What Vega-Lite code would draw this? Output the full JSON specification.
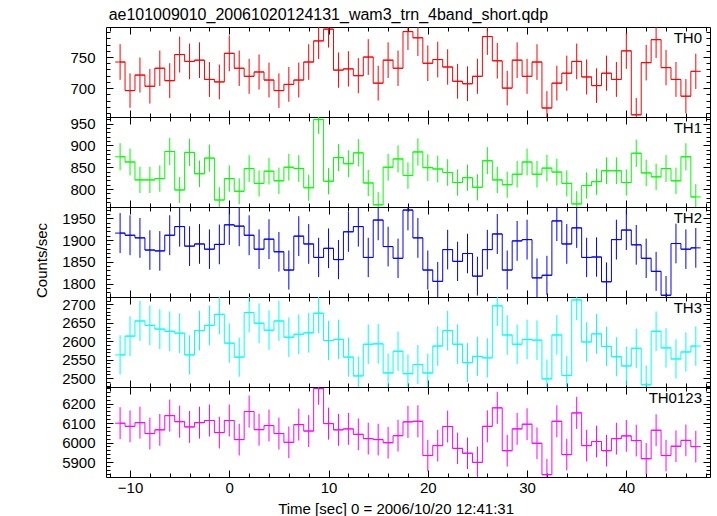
{
 "$schema": "https://vega.github.io/schema/vega-lite/v6.json",
 "padding": {"left": 34, "top": 7, "right": 5, "bottom": 0},
 "background": "white",
 "title": {"text": "ae101009010_20061020124131_wam3_trn_4band_short.qdp", "anchor": "start", "dx": 74, "offset": -11, "fontSize": 16, "baseline": "alphabetic"},
 "data": {"values": [
  {"t":-11,"t0":-11.5,"t1":-10.5,"TH0":742,"eTH0":28.7,"TH1":874,"eTH1":31.0,"TH2":1916,"eTH2":46.0,"TH3":2563,"eTH3":53.2,"TH0123":6099,"eTH0123":82.0},
  {"t":-10,"t0":-10.5,"t1":-9.5,"TH0":696,"eTH0":27.8,"TH1":862,"eTH1":30.8,"TH2":1911,"eTH2":45.9,"TH3":2614,"eTH3":53.7,"TH0123":6083,"eTH0123":81.9},
  {"t":-9,"t0":-9.5,"t1":-8.5,"TH0":721,"eTH0":28.2,"TH1":821,"eTH1":30.1,"TH2":1905,"eTH2":45.9,"TH3":2655,"eTH3":54.1,"TH0123":6102,"eTH0123":82.0},
  {"t":-8,"t0":-8.5,"t1":-7.5,"TH0":703,"eTH0":27.9,"TH1":821,"eTH1":30.1,"TH2":1877,"eTH2":45.5,"TH3":2643,"eTH3":54.0,"TH0123":6046,"eTH0123":81.7},
  {"t":-7,"t0":-7.5,"t1":-6.5,"TH0":732,"eTH0":28.5,"TH1":824,"eTH1":30.1,"TH2":1875,"eTH2":45.5,"TH3":2633,"eTH3":53.9,"TH0123":6065,"eTH0123":81.8},
  {"t":-6,"t0":-6.5,"t1":-5.5,"TH0":712,"eTH0":28.1,"TH1":886,"eTH1":31.3,"TH2":1911,"eTH2":45.9,"TH3":2627,"eTH3":53.8,"TH0123":6138,"eTH0123":82.3},
  {"t":-5,"t0":-5.5,"t1":-4.5,"TH0":754,"eTH0":28.9,"TH1":798,"eTH1":29.7,"TH2":1931,"eTH2":46.2,"TH3":2622,"eTH3":53.8,"TH0123":6107,"eTH0123":82.1},
  {"t":-4,"t0":-4.5,"t1":-3.5,"TH0":743,"eTH0":28.7,"TH1":884,"eTH1":31.2,"TH2":1886,"eTH2":45.6,"TH3":2563,"eTH3":53.2,"TH0123":6080,"eTH0123":81.9},
  {"t":-3,"t0":-3.5,"t1":-2.5,"TH0":745,"eTH0":28.7,"TH1":835,"eTH1":30.3,"TH2":1891,"eTH2":45.7,"TH3":2629,"eTH3":53.8,"TH0123":6102,"eTH0123":82.0},
  {"t":-2,"t0":-2.5,"t1":-1.5,"TH0":714,"eTH0":28.1,"TH1":871,"eTH1":31.0,"TH2":1879,"eTH2":45.5,"TH3":2643,"eTH3":54.0,"TH0123":6113,"eTH0123":82.1},
  {"t":-1,"t0":-1.5,"t1":-0.5,"TH0":710,"eTH0":28.0,"TH1":775,"eTH1":29.3,"TH2":1890,"eTH2":45.7,"TH3":2673,"eTH3":54.3,"TH0123":6051,"eTH0123":81.7},
  {"t":0,"t0":-0.5,"t1":0.5,"TH0":756,"eTH0":28.9,"TH1":824,"eTH1":30.1,"TH2":1935,"eTH2":46.2,"TH3":2595,"eTH3":53.5,"TH0123":6113,"eTH0123":82.1},
  {"t":1,"t0":0.5,"t1":1.5,"TH0":732,"eTH0":28.5,"TH1":795,"eTH1":29.6,"TH2":1932,"eTH2":46.2,"TH3":2557,"eTH3":53.1,"TH0123":6015,"eTH0123":81.4},
  {"t":2,"t0":1.5,"t1":2.5,"TH0":719,"eTH0":28.2,"TH1":847,"eTH1":30.6,"TH2":1911,"eTH2":45.9,"TH3":2678,"eTH3":54.3,"TH0123":6159,"eTH0123":82.4},
  {"t":3,"t0":2.5,"t1":3.5,"TH0":726,"eTH0":28.3,"TH1":813,"eTH1":29.9,"TH2":1879,"eTH2":45.5,"TH3":2649,"eTH3":54.0,"TH0123":6066,"eTH0123":81.8},
  {"t":4,"t0":3.5,"t1":4.5,"TH0":713,"eTH0":28.1,"TH1":841,"eTH1":30.5,"TH2":1902,"eTH2":45.8,"TH3":2630,"eTH3":53.8,"TH0123":6087,"eTH0123":81.9},
  {"t":5,"t0":4.5,"t1":5.5,"TH0":696,"eTH0":27.8,"TH1":819,"eTH1":30.1,"TH2":1873,"eTH2":45.5,"TH3":2655,"eTH3":54.1,"TH0123":6046,"eTH0123":81.7},
  {"t":6,"t0":5.5,"t1":6.5,"TH0":706,"eTH0":28.0,"TH1":850,"eTH1":30.6,"TH2":1831,"eTH2":45.0,"TH3":2611,"eTH3":53.7,"TH0123":6001,"eTH0123":81.3},
  {"t":7,"t0":6.5,"t1":7.5,"TH0":713,"eTH0":28.1,"TH1":847,"eTH1":30.6,"TH2":1909,"eTH2":45.9,"TH3":2619,"eTH3":53.7,"TH0123":6092,"eTH0123":82.0},
  {"t":8,"t0":7.5,"t1":8.5,"TH0":742,"eTH0":28.7,"TH1":803,"eTH1":29.8,"TH2":1891,"eTH2":45.7,"TH3":2623,"eTH3":53.8,"TH0123":6059,"eTH0123":81.7},
  {"t":9,"t0":8.5,"t1":9.5,"TH0":776,"eTH0":29.3,"TH1":959,"eTH1":32.6,"TH2":1860,"eTH2":45.3,"TH3":2676,"eTH3":54.3,"TH0123":6277,"eTH0123":83.2},
  {"t":10,"t0":9.5,"t1":10.5,"TH0":795,"eTH0":29.7,"TH1":818,"eTH1":30.0,"TH2":1881,"eTH2":45.6,"TH3":2602,"eTH3":53.6,"TH0123":6097,"eTH0123":82.0},
  {"t":11,"t0":10.5,"t1":11.5,"TH0":729,"eTH0":28.4,"TH1":872,"eTH1":31.0,"TH2":1855,"eTH2":45.2,"TH3":2605,"eTH3":53.6,"TH0123":6065,"eTH0123":81.8},
  {"t":12,"t0":11.5,"t1":12.5,"TH0":731,"eTH0":28.4,"TH1":858,"eTH1":30.8,"TH2":1919,"eTH2":46.0,"TH3":2557,"eTH3":53.1,"TH0123":6070,"eTH0123":81.8},
  {"t":13,"t0":12.5,"t1":13.5,"TH0":720,"eTH0":28.2,"TH1":883,"eTH1":31.2,"TH2":1931,"eTH2":46.2,"TH3":2506,"eTH3":52.6,"TH0123":6042,"eTH0123":81.6},
  {"t":14,"t0":13.5,"t1":14.5,"TH0":750,"eTH0":28.8,"TH1":814,"eTH1":30.0,"TH2":1860,"eTH2":45.3,"TH3":2592,"eTH3":53.5,"TH0123":6020,"eTH0123":81.5},
  {"t":15,"t0":14.5,"t1":15.5,"TH0":708,"eTH0":28.0,"TH1":764,"eTH1":29.1,"TH2":1946,"eTH2":46.4,"TH3":2593,"eTH3":53.5,"TH0123":6015,"eTH0123":81.4},
  {"t":16,"t0":15.5,"t1":16.5,"TH0":745,"eTH0":28.7,"TH1":850,"eTH1":30.6,"TH2":1885,"eTH2":45.6,"TH3":2514,"eTH3":52.7,"TH0123":5999,"eTH0123":81.3},
  {"t":17,"t0":16.5,"t1":17.5,"TH0":732,"eTH0":28.5,"TH1":869,"eTH1":31.0,"TH2":1858,"eTH2":45.3,"TH3":2573,"eTH3":53.3,"TH0123":6035,"eTH0123":81.6},
  {"t":18,"t0":17.5,"t1":18.5,"TH0":791,"eTH0":29.6,"TH1":831,"eTH1":30.3,"TH2":1969,"eTH2":46.6,"TH3":2512,"eTH3":52.6,"TH0123":6106,"eTH0123":82.1},
  {"t":19,"t0":18.5,"t1":19.5,"TH0":781,"eTH0":29.4,"TH1":885,"eTH1":31.2,"TH2":1905,"eTH2":45.9,"TH3":2537,"eTH3":52.9,"TH0123":6109,"eTH0123":82.1},
  {"t":20,"t0":19.5,"t1":20.5,"TH0":740,"eTH0":28.6,"TH1":849,"eTH1":30.6,"TH2":1831,"eTH2":45.0,"TH3":2514,"eTH3":52.7,"TH0123":5933,"eTH0123":80.9},
  {"t":21,"t0":20.5,"t1":21.5,"TH0":746,"eTH0":28.7,"TH1":846,"eTH1":30.5,"TH2":1805,"eTH2":44.6,"TH3":2587,"eTH3":53.4,"TH0123":5984,"eTH0123":81.2},
  {"t":22,"t0":21.5,"t1":22.5,"TH0":734,"eTH0":28.5,"TH1":838,"eTH1":30.4,"TH2":1878,"eTH2":45.5,"TH3":2629,"eTH3":53.8,"TH0123":6082,"eTH0123":81.9},
  {"t":23,"t0":22.5,"t1":23.5,"TH0":711,"eTH0":28.0,"TH1":815,"eTH1":30.0,"TH2":1851,"eTH2":45.2,"TH3":2592,"eTH3":53.5,"TH0123":5970,"eTH0123":81.1},
  {"t":24,"t0":23.5,"t1":24.5,"TH0":707,"eTH0":28.0,"TH1":826,"eTH1":30.2,"TH2":1869,"eTH2":45.4,"TH3":2542,"eTH3":52.9,"TH0123":5945,"eTH0123":81.0},
  {"t":25,"t0":24.5,"t1":25.5,"TH0":719,"eTH0":28.2,"TH1":804,"eTH1":29.8,"TH2":1817,"eTH2":44.8,"TH3":2559,"eTH3":53.1,"TH0123":5898,"eTH0123":80.7},
  {"t":26,"t0":25.5,"t1":26.5,"TH0":783,"eTH0":29.5,"TH1":865,"eTH1":30.9,"TH2":1878,"eTH2":45.5,"TH3":2555,"eTH3":53.1,"TH0123":6083,"eTH0123":81.9},
  {"t":27,"t0":26.5,"t1":27.5,"TH0":744,"eTH0":28.7,"TH1":821,"eTH1":30.1,"TH2":1914,"eTH2":46.0,"TH3":2696,"eTH3":54.5,"TH0123":6178,"eTH0123":82.5},
  {"t":28,"t0":27.5,"t1":28.5,"TH0":700,"eTH0":27.8,"TH1":810,"eTH1":29.9,"TH2":1831,"eTH2":45.0,"TH3":2617,"eTH3":53.7,"TH0123":5958,"eTH0123":81.1},
  {"t":29,"t0":28.5,"t1":29.5,"TH0":745,"eTH0":28.7,"TH1":834,"eTH1":30.3,"TH2":1898,"eTH2":45.8,"TH3":2592,"eTH3":53.5,"TH0123":6070,"eTH0123":81.8},
  {"t":30,"t0":29.5,"t1":30.5,"TH0":719,"eTH0":28.2,"TH1":862,"eTH1":30.8,"TH2":1901,"eTH2":45.8,"TH3":2605,"eTH3":53.6,"TH0123":6094,"eTH0123":82.0},
  {"t":31,"t0":30.5,"t1":31.5,"TH0":742,"eTH0":28.7,"TH1":834,"eTH1":30.3,"TH2":1813,"eTH2":44.7,"TH3":2603,"eTH3":53.6,"TH0123":5996,"eTH0123":81.3},
  {"t":32,"t0":31.5,"t1":32.5,"TH0":668,"eTH0":27.2,"TH1":848,"eTH1":30.6,"TH2":1819,"eTH2":44.8,"TH3":2498,"eTH3":52.5,"TH0123":5835,"eTH0123":80.2},
  {"t":33,"t0":32.5,"t1":33.5,"TH0":708,"eTH0":28.0,"TH1":839,"eTH1":30.4,"TH2":1944,"eTH2":46.3,"TH3":2617,"eTH3":53.7,"TH0123":6109,"eTH0123":82.1},
  {"t":34,"t0":33.5,"t1":34.5,"TH0":724,"eTH0":28.3,"TH1":813,"eTH1":29.9,"TH2":1891,"eTH2":45.7,"TH3":2507,"eTH3":52.6,"TH0123":5938,"eTH0123":80.9},
  {"t":35,"t0":34.5,"t1":35.5,"TH0":743,"eTH0":28.7,"TH1":766,"eTH1":29.1,"TH2":1928,"eTH2":46.1,"TH3":2712,"eTH3":54.7,"TH0123":6152,"eTH0123":82.4},
  {"t":36,"t0":35.5,"t1":36.5,"TH0":718,"eTH0":28.2,"TH1":808,"eTH1":29.9,"TH2":1860,"eTH2":45.3,"TH3":2598,"eTH3":53.5,"TH0123":5984,"eTH0123":81.2},
  {"t":37,"t0":36.5,"t1":37.5,"TH0":704,"eTH0":27.9,"TH1":817,"eTH1":30.0,"TH2":1861,"eTH2":45.3,"TH3":2620,"eTH3":53.7,"TH0123":6005,"eTH0123":81.4},
  {"t":38,"t0":37.5,"t1":38.5,"TH0":724,"eTH0":28.3,"TH1":842,"eTH1":30.5,"TH2":1804,"eTH2":44.6,"TH3":2586,"eTH3":53.4,"TH0123":5958,"eTH0123":81.1},
  {"t":39,"t0":38.5,"t1":39.5,"TH0":714,"eTH0":28.1,"TH1":842,"eTH1":30.5,"TH2":1901,"eTH2":45.8,"TH3":2558,"eTH3":53.1,"TH0123":6020,"eTH0123":81.5},
  {"t":40,"t0":39.5,"t1":40.5,"TH0":760,"eTH0":29.0,"TH1":815,"eTH1":30.0,"TH2":1923,"eTH2":46.1,"TH3":2533,"eTH3":52.9,"TH0123":6034,"eTH0123":81.6},
  {"t":41,"t0":40.5,"t1":41.5,"TH0":657,"eTH0":27.0,"TH1":882,"eTH1":31.2,"TH2":1889,"eTH2":45.7,"TH3":2581,"eTH3":53.3,"TH0123":6010,"eTH0123":81.4},
  {"t":42,"t0":41.5,"t1":42.5,"TH0":741,"eTH0":28.6,"TH1":837,"eTH1":30.4,"TH2":1858,"eTH2":45.3,"TH3":2482,"eTH3":52.3,"TH0123":5917,"eTH0123":80.8},
  {"t":43,"t0":42.5,"t1":43.5,"TH0":778,"eTH0":29.4,"TH1":828,"eTH1":30.2,"TH2":1828,"eTH2":44.9,"TH3":2627,"eTH3":53.8,"TH0123":6063,"eTH0123":81.8},
  {"t":44,"t0":43.5,"t1":44.5,"TH0":733,"eTH0":28.5,"TH1":847,"eTH1":30.6,"TH2":1773,"eTH2":44.3,"TH3":2582,"eTH3":53.4,"TH0123":5933,"eTH0123":80.9},
  {"t":45,"t0":44.5,"t1":45.5,"TH0":714,"eTH0":28.1,"TH1":819,"eTH1":30.1,"TH2":1892,"eTH2":45.7,"TH3":2552,"eTH3":53.0,"TH0123":5981,"eTH0123":81.2},
  {"t":46,"t0":45.5,"t1":46.5,"TH0":687,"eTH0":27.6,"TH1":874,"eTH1":31.0,"TH2":1879,"eTH2":45.5,"TH3":2571,"eTH3":53.2,"TH0123":6011,"eTH0123":81.4},
  {"t":47,"t0":46.5,"t1":47.5,"TH0":727,"eTH0":28.4,"TH1":782,"eTH1":29.4,"TH2":1882,"eTH2":45.6,"TH3":2587,"eTH3":53.4,"TH0123":5979,"eTH0123":81.2}
 ]},
 "spacing": 0,
 "bounds": "flush",
 "vconcat": [
  {
   "width": 604, "height": 90,
   "layer": [
    {"mark": {"type": "rule", "color": "#ff0000", "strokeWidth": 1, "clip": true},
     "encoding": {
      "x": {"field": "t0", "type": "quantitative", "scale": {"domain": [-12.42, 48.43], "nice": false, "zero": false},
            "axis": {"orient": "bottom", "values": [-12,-10,-8,-6,-4,-2,0,2,4,6,8,10,12,14,16,18,20,22,24,26,28,30,32,34,36,38,40,42,44,46,48], "tickSize": {"condition": {"test": "datum.value % 10 === 0", "value": -7}, "value": -4}, "labels": false, "title": null}},
      "x2": {"field": "t1"},
      "y": {"field": "TH0", "type": "quantitative", "scale": {"domain": [653.5, 798.4], "nice": false, "zero": false},
            "axis": {"orient": "left", "values": [660,670,680,690,700,710,720,730,740,750,760,770,780,790], "tickSize": {"condition": {"test": "datum.value % 50 === 0", "value": -7}, "value": -4}, "format": "d", "labelExpr": "datum.value % 50 === 0 ? datum.label : ''", "title": null}}
     }},
    {"mark": {"type": "line", "interpolate": "step", "color": "#ff0000", "strokeWidth": 1, "clip": true},
     "encoding": {
      "x": {"field": "t", "type": "quantitative", "scale": {"domain": [-12.42, 48.43], "nice": false, "zero": false},
            "axis": {"orient": "top", "values": [-12,-10,-8,-6,-4,-2,0,2,4,6,8,10,12,14,16,18,20,22,24,26,28,30,32,34,36,38,40,42,44,46,48], "tickSize": {"condition": {"test": "datum.value % 10 === 0", "value": -7}, "value": -4}, "labels": false, "title": null}},
      "y": {"field": "TH0", "type": "quantitative", "scale": {"domain": [653.5, 798.4], "nice": false, "zero": false},
            "axis": {"orient": "right", "values": [660,670,680,690,700,710,720,730,740,750,760,770,780,790], "tickSize": {"condition": {"test": "datum.value % 50 === 0", "value": -7}, "value": -4}, "labels": false, "title": null}}
     }},
    {"mark": {"type": "errorbar", "color": "#ff0000", "clip": true},
     "encoding": {
      "x": {"field": "t", "type": "quantitative", "scale": {"domain": [-12.42, 48.43], "nice": false, "zero": false}, "axis": null},
      "y": {"field": "TH0", "type": "quantitative", "scale": {"domain": [653.5, 798.4], "nice": false, "zero": false}, "axis": null},
      "yError": {"field": "eTH0"}
     }},
    {"data": {"values": [{"band": "TH0"}]},
     "mark": {"type": "text", "align": "right", "baseline": "alphabetic", "dx": -8, "dy": 15.5, "fontSize": 15, "color": "black"},
     "encoding": {"text": {"field": "band"}, "x": {"value": "width"}, "y": {"value": 0}}}
   ],
   "resolve": {"axis": {"x": "independent", "y": "independent"}}
  },
  {
   "width": 604, "height": 90,
   "layer": [
    {"mark": {"type": "rule", "color": "#00ff00", "strokeWidth": 1, "clip": true},
     "encoding": {
      "x": {"field": "t0", "type": "quantitative", "scale": {"domain": [-12.42, 48.43], "nice": false, "zero": false},
            "axis": {"orient": "bottom", "values": [-12,-10,-8,-6,-4,-2,0,2,4,6,8,10,12,14,16,18,20,22,24,26,28,30,32,34,36,38,40,42,44,46,48], "tickSize": {"condition": {"test": "datum.value % 10 === 0", "value": -7}, "value": -4}, "labels": false, "title": null}},
      "x2": {"field": "t1"},
      "y": {"field": "TH1", "type": "quantitative", "scale": {"domain": [759, 965], "nice": false, "zero": false},
            "axis": {"orient": "left", "values": [760,770,780,790,800,810,820,830,840,850,860,870,880,890,900,910,920,930,940,950,960], "tickSize": {"condition": {"test": "datum.value % 50 === 0", "value": -7}, "value": -4}, "format": "d", "labelExpr": "datum.value % 50 === 0 ? datum.label : ''", "title": null}}
     }},
    {"mark": {"type": "line", "interpolate": "step", "color": "#00ff00", "strokeWidth": 1, "clip": true},
     "encoding": {
      "x": {"field": "t", "type": "quantitative", "scale": {"domain": [-12.42, 48.43], "nice": false, "zero": false},
            "axis": {"orient": "top", "values": [-12,-10,-8,-6,-4,-2,0,2,4,6,8,10,12,14,16,18,20,22,24,26,28,30,32,34,36,38,40,42,44,46,48], "tickSize": {"condition": {"test": "datum.value % 10 === 0", "value": -7}, "value": -4}, "labels": false, "title": null}},
      "y": {"field": "TH1", "type": "quantitative", "scale": {"domain": [759, 965], "nice": false, "zero": false},
            "axis": {"orient": "right", "values": [760,770,780,790,800,810,820,830,840,850,860,870,880,890,900,910,920,930,940,950,960], "tickSize": {"condition": {"test": "datum.value % 50 === 0", "value": -7}, "value": -4}, "labels": false, "title": null}}
     }},
    {"mark": {"type": "errorbar", "color": "#00ff00", "clip": true},
     "encoding": {
      "x": {"field": "t", "type": "quantitative", "scale": {"domain": [-12.42, 48.43], "nice": false, "zero": false}, "axis": null},
      "y": {"field": "TH1", "type": "quantitative", "scale": {"domain": [759, 965], "nice": false, "zero": false}, "axis": null},
      "yError": {"field": "eTH1"}
     }},
    {"data": {"values": [{"band": "TH1"}]},
     "mark": {"type": "text", "align": "right", "baseline": "alphabetic", "dx": -8, "dy": 15.5, "fontSize": 15, "color": "black"},
     "encoding": {"text": {"field": "band"}, "x": {"value": "width"}, "y": {"value": 0}}}
   ],
   "resolve": {"axis": {"x": "independent", "y": "independent"}}
  },
  {
   "width": 604, "height": 90,
   "layer": [
    {"mark": {"type": "rule", "color": "#0000ff", "strokeWidth": 1, "clip": true},
     "encoding": {
      "x": {"field": "t0", "type": "quantitative", "scale": {"domain": [-12.42, 48.43], "nice": false, "zero": false},
            "axis": {"orient": "bottom", "values": [-12,-10,-8,-6,-4,-2,0,2,4,6,8,10,12,14,16,18,20,22,24,26,28,30,32,34,36,38,40,42,44,46,48], "tickSize": {"condition": {"test": "datum.value % 10 === 0", "value": -7}, "value": -4}, "labels": false, "title": null}},
      "x2": {"field": "t1"},
      "y": {"field": "TH2", "type": "quantitative", "scale": {"domain": [1769, 1976], "nice": false, "zero": false},
            "axis": {"orient": "left", "values": [1770,1780,1790,1800,1810,1820,1830,1840,1850,1860,1870,1880,1890,1900,1910,1920,1930,1940,1950,1960,1970], "tickSize": {"condition": {"test": "datum.value % 50 === 0", "value": -7}, "value": -4}, "format": "d", "labelExpr": "datum.value % 50 === 0 ? datum.label : ''", "title": "Counts/sec", "titleY": 53, "titlePadding": 12}}
     }},
    {"mark": {"type": "line", "interpolate": "step", "color": "#0000ff", "strokeWidth": 1, "clip": true},
     "encoding": {
      "x": {"field": "t", "type": "quantitative", "scale": {"domain": [-12.42, 48.43], "nice": false, "zero": false},
            "axis": {"orient": "top", "values": [-12,-10,-8,-6,-4,-2,0,2,4,6,8,10,12,14,16,18,20,22,24,26,28,30,32,34,36,38,40,42,44,46,48], "tickSize": {"condition": {"test": "datum.value % 10 === 0", "value": -7}, "value": -4}, "labels": false, "title": null}},
      "y": {"field": "TH2", "type": "quantitative", "scale": {"domain": [1769, 1976], "nice": false, "zero": false},
            "axis": {"orient": "right", "values": [1770,1780,1790,1800,1810,1820,1830,1840,1850,1860,1870,1880,1890,1900,1910,1920,1930,1940,1950,1960,1970], "tickSize": {"condition": {"test": "datum.value % 50 === 0", "value": -7}, "value": -4}, "labels": false, "title": null}}
     }},
    {"mark": {"type": "errorbar", "color": "#0000ff", "clip": true},
     "encoding": {
      "x": {"field": "t", "type": "quantitative", "scale": {"domain": [-12.42, 48.43], "nice": false, "zero": false}, "axis": null},
      "y": {"field": "TH2", "type": "quantitative", "scale": {"domain": [1769, 1976], "nice": false, "zero": false}, "axis": null},
      "yError": {"field": "eTH2"}
     }},
    {"data": {"values": [{"band": "TH2"}]},
     "mark": {"type": "text", "align": "right", "baseline": "alphabetic", "dx": -8, "dy": 15.5, "fontSize": 15, "color": "black"},
     "encoding": {"text": {"field": "band"}, "x": {"value": "width"}, "y": {"value": 0}}}
   ],
   "resolve": {"axis": {"x": "independent", "y": "independent"}}
  },
  {
   "width": 604, "height": 90,
   "layer": [
    {"mark": {"type": "rule", "color": "#00ffff", "strokeWidth": 1, "clip": true},
     "encoding": {
      "x": {"field": "t0", "type": "quantitative", "scale": {"domain": [-12.42, 48.43], "nice": false, "zero": false},
            "axis": {"orient": "bottom", "values": [-12,-10,-8,-6,-4,-2,0,2,4,6,8,10,12,14,16,18,20,22,24,26,28,30,32,34,36,38,40,42,44,46,48], "tickSize": {"condition": {"test": "datum.value % 10 === 0", "value": -7}, "value": -4}, "labels": false, "title": null}},
      "x2": {"field": "t1"},
      "y": {"field": "TH3", "type": "quantitative", "scale": {"domain": [2476, 2720], "nice": false, "zero": false},
            "axis": {"orient": "left", "values": [2480,2490,2500,2510,2520,2530,2540,2550,2560,2570,2580,2590,2600,2610,2620,2630,2640,2650,2660,2670,2680,2690,2700,2710,2720], "tickSize": {"condition": {"test": "datum.value % 50 === 0", "value": -7}, "value": -4}, "format": "d", "labelExpr": "datum.value % 50 === 0 ? datum.label : ''", "title": null}}
     }},
    {"mark": {"type": "line", "interpolate": "step", "color": "#00ffff", "strokeWidth": 1, "clip": true},
     "encoding": {
      "x": {"field": "t", "type": "quantitative", "scale": {"domain": [-12.42, 48.43], "nice": false, "zero": false},
            "axis": {"orient": "top", "values": [-12,-10,-8,-6,-4,-2,0,2,4,6,8,10,12,14,16,18,20,22,24,26,28,30,32,34,36,38,40,42,44,46,48], "tickSize": {"condition": {"test": "datum.value % 10 === 0", "value": -7}, "value": -4}, "labels": false, "title": null}},
      "y": {"field": "TH3", "type": "quantitative", "scale": {"domain": [2476, 2720], "nice": false, "zero": false},
            "axis": {"orient": "right", "values": [2480,2490,2500,2510,2520,2530,2540,2550,2560,2570,2580,2590,2600,2610,2620,2630,2640,2650,2660,2670,2680,2690,2700,2710,2720], "tickSize": {"condition": {"test": "datum.value % 50 === 0", "value": -7}, "value": -4}, "labels": false, "title": null}}
     }},
    {"mark": {"type": "errorbar", "color": "#00ffff", "clip": true},
     "encoding": {
      "x": {"field": "t", "type": "quantitative", "scale": {"domain": [-12.42, 48.43], "nice": false, "zero": false}, "axis": null},
      "y": {"field": "TH3", "type": "quantitative", "scale": {"domain": [2476, 2720], "nice": false, "zero": false}, "axis": null},
      "yError": {"field": "eTH3"}
     }},
    {"data": {"values": [{"band": "TH3"}]},
     "mark": {"type": "text", "align": "right", "baseline": "alphabetic", "dx": -8, "dy": 15.5, "fontSize": 15, "color": "black"},
     "encoding": {"text": {"field": "band"}, "x": {"value": "width"}, "y": {"value": 0}}}
   ],
   "resolve": {"axis": {"x": "independent", "y": "independent"}}
  },
  {
   "width": 604, "height": 90,
   "layer": [
    {"mark": {"type": "rule", "color": "#ff00ff", "strokeWidth": 1, "clip": true},
     "encoding": {
      "x": {"field": "t0", "type": "quantitative", "scale": {"domain": [-12.42, 48.43], "nice": false, "zero": false},
            "axis": {"orient": "bottom", "values": [-12,-10,-8,-6,-4,-2,0,2,4,6,8,10,12,14,16,18,20,22,24,26,28,30,32,34,36,38,40,42,44,46,48], "tickSize": {"condition": {"test": "datum.value % 10 === 0", "value": -7}, "value": -4}, "format": "d", "labelExpr": "datum.value % 10 === 0 ? datum.label : ''", "labelPadding": 10, "title": "Time [sec] 0 = 2006/10/20 12:41:31", "titleX": 289.6, "titlePadding": 3}},
      "x2": {"field": "t1"},
      "y": {"field": "TH0123", "type": "quantitative", "scale": {"domain": [5823, 6285], "nice": false, "zero": false},
            "axis": {"orient": "left", "values": [5840,5860,5880,5900,5920,5940,5960,5980,6000,6020,6040,6060,6080,6100,6120,6140,6160,6180,6200,6220,6240,6260,6280], "tickSize": {"condition": {"test": "datum.value % 100 === 0", "value": -7}, "value": -4}, "format": "d", "labelExpr": "datum.value % 100 === 0 ? datum.label : ''", "title": null}}
     }},
    {"mark": {"type": "line", "interpolate": "step", "color": "#ff00ff", "strokeWidth": 1, "clip": true},
     "encoding": {
      "x": {"field": "t", "type": "quantitative", "scale": {"domain": [-12.42, 48.43], "nice": false, "zero": false},
            "axis": {"orient": "top", "values": [-12,-10,-8,-6,-4,-2,0,2,4,6,8,10,12,14,16,18,20,22,24,26,28,30,32,34,36,38,40,42,44,46,48], "tickSize": {"condition": {"test": "datum.value % 10 === 0", "value": -7}, "value": -4}, "labels": false, "title": null}},
      "y": {"field": "TH0123", "type": "quantitative", "scale": {"domain": [5823, 6285], "nice": false, "zero": false},
            "axis": {"orient": "right", "values": [5840,5860,5880,5900,5920,5940,5960,5980,6000,6020,6040,6060,6080,6100,6120,6140,6160,6180,6200,6220,6240,6260,6280], "tickSize": {"condition": {"test": "datum.value % 100 === 0", "value": -7}, "value": -4}, "labels": false, "title": null}}
     }},
    {"mark": {"type": "errorbar", "color": "#ff00ff", "clip": true},
     "encoding": {
      "x": {"field": "t", "type": "quantitative", "scale": {"domain": [-12.42, 48.43], "nice": false, "zero": false}, "axis": null},
      "y": {"field": "TH0123", "type": "quantitative", "scale": {"domain": [5823, 6285], "nice": false, "zero": false}, "axis": null},
      "yError": {"field": "eTH0123"}
     }},
    {"data": {"values": [{"band": "TH0123"}]},
     "mark": {"type": "text", "align": "right", "baseline": "alphabetic", "dx": -8, "dy": 15.5, "fontSize": 15, "color": "black"},
     "encoding": {"text": {"field": "band"}, "x": {"value": "width"}, "y": {"value": 0}}}
   ],
   "resolve": {"axis": {"x": "independent", "y": "independent"}}
  }
 ],
 "config": {
  "font": "Liberation Sans",
  "view": {"stroke": null},
  "title": {"font": "Liberation Sans", "fontSize": 15, "fontWeight": "normal", "color": "black"},
  "axis": {
   "grid": false,
   "domainColor": "black", "domainWidth": 1,
   "tickColor": "black", "tickWidth": 1,
   "labelFont": "Liberation Sans", "labelFontSize": 15, "labelColor": "black",
   "labelPadding": 18, "labelOverlap": false, "labelBound": false, "labelFlush": false,
   "titleFont": "Liberation Sans", "titleFontSize": 15, "titleFontWeight": "normal", "titleColor": "black"
  }
 }
}
